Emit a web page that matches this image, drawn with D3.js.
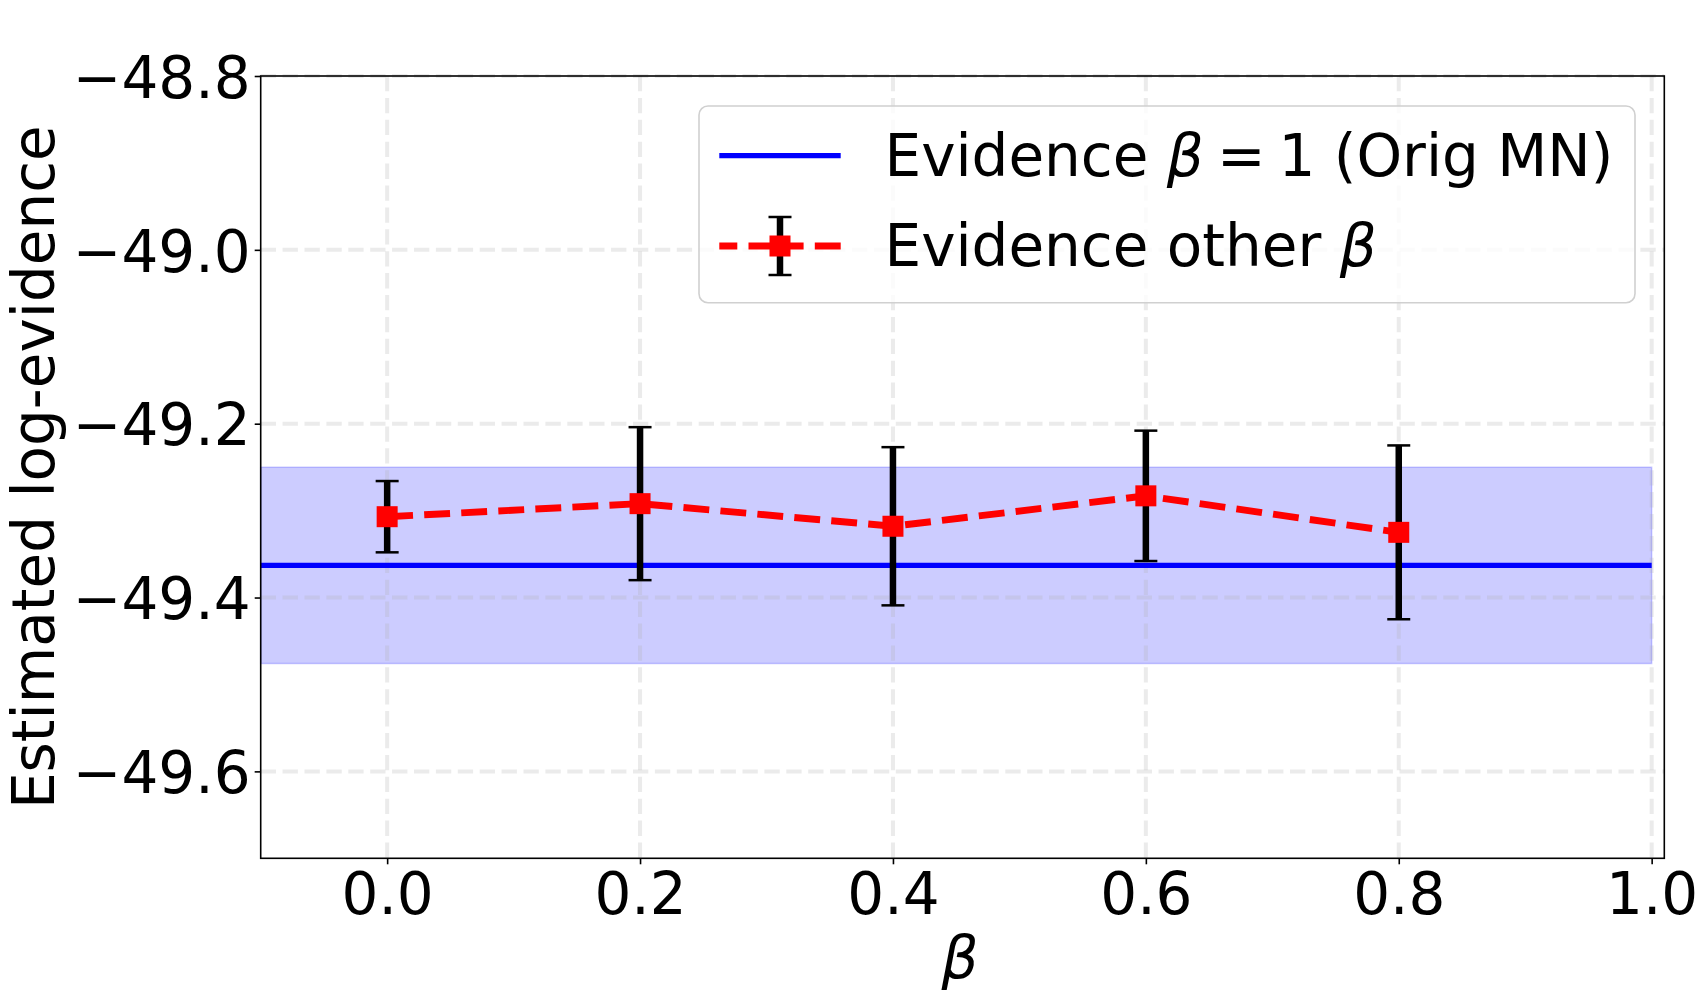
<!DOCTYPE html>
<html>
<head>
<meta charset="utf-8">
<script src="https://cdn.jsdelivr.net/npm/d3@7"></script>
<style>
  html, body { margin: 0; padding: 0; background: #fff; }
  svg { display: block; }
  text { font-family: "DejaVu Sans", sans-serif; }
</style>
</head>
<body>
<script>
// ---- data ----
const betas = [0.0, 0.2, 0.4, 0.6, 0.8];
const evidence = [-49.307, -49.292, -49.318, -49.283, -49.325];
const errors = [0.041, 0.088, 0.091, 0.075, 0.100];
const baseEvidence = -49.363;          // beta = 1 (Orig MN)
const baseLower = -49.476;
const baseUpper = -49.250;
const baseX = [-0.1, 1.0];
const xTicks = [0.0, 0.2, 0.4, 0.6, 0.8, 1.0];
const yTicks = [-49.6, -49.4, -49.2, -49.0, -48.8];
const xDomain = [-0.1, 1.01];
const yDomain = [-49.7, -48.8];
const labels = {
  y: "Estimated log-evidence",
  x: "β",
  base: ["Evidence ", "β", "=", "1 (Orig MN)"],
  other: ["Evidence other ", "β"]
};

// ---- layout ----
const W = 1701, H = 993;
const L = 260.7, R = 1664.3, T = 76, B = 858.3;
const FS = 58;

const svg = d3.select("body").append("svg").attr("width", W).attr("height", H);
svg.append("rect").attr("width", W).attr("height", H).attr("fill", "#fff");

const x = d3.scaleLinear().domain(xDomain).range([L, R]);
const y = d3.scaleLinear().domain(yDomain).range([B, T]);

// band
const bandData = baseX.map(v => ({x: v, lo: baseLower, hi: baseUpper}));
svg.append("path")
  .datum(bandData)
  .attr("d", d3.area().x(d => x(d.x)).y0(d => y(d.lo)).y1(d => y(d.hi)))
  .attr("fill", "#0000ff").attr("fill-opacity", 0.2)
  .attr("stroke", "#0000ff").attr("stroke-opacity", 0.2).attr("stroke-width", 1.5);

// grid
const grid = svg.append("g");
grid.selectAll("line.gx").data(xTicks).join("line")
  .attr("x1", d => x(d)).attr("x2", d => x(d)).attr("y1", T).attr("y2", B)
  .attr("stroke", "#b0b0b0").attr("stroke-opacity", 0.25)
  .attr("stroke-width", 4).attr("stroke-dasharray", "15.3,6.6");
grid.selectAll("line.gy").data(yTicks).join("line")
  .attr("x1", L).attr("x2", R).attr("y1", d => y(d)).attr("y2", d => y(d))
  .attr("stroke", "#b0b0b0").attr("stroke-opacity", 0.25)
  .attr("stroke-width", 4).attr("stroke-dasharray", "15.3,6.6");

// blue line
svg.append("path")
  .datum(baseX)
  .attr("d", d3.line().x(d => x(d)).y(() => y(baseEvidence)))
  .attr("stroke", "#0000ff").attr("stroke-width", 5.3).attr("fill", "none");

// error bars
const pts = betas.map((b, i) => ({x: b, y: evidence[i], e: errors[i]}));
const eb = svg.append("g");
eb.selectAll("line.bar").data(pts).join("line")
  .attr("x1", d => x(d.x)).attr("x2", d => x(d.x))
  .attr("y1", d => y(d.y - d.e)).attr("y2", d => y(d.y + d.e))
  .attr("stroke", "#000").attr("stroke-width", 6.5);
["lo", "hi"].forEach(k => {
  eb.selectAll("line.cap" + k).data(pts).join("line")
    .attr("x1", d => x(d.x) - 11.5).attr("x2", d => x(d.x) + 11.5)
    .attr("y1", d => y(k === "lo" ? d.y - d.e : d.y + d.e))
    .attr("y2", d => y(k === "lo" ? d.y - d.e : d.y + d.e))
    .attr("stroke", "#000").attr("stroke-width", 2.5);
});

// red dashed line
svg.append("path")
  .datum(pts)
  .attr("d", d3.line().x(d => x(d.x)).y(d => y(d.y)))
  .attr("stroke", "#ff0000").attr("stroke-width", 6.9).attr("fill", "none")
  .attr("stroke-dasharray", "25.9,11.2");
const MS = 21;
svg.selectAll("rect.mk").data(pts).join("rect")
  .attr("x", d => x(d.x) - MS / 2).attr("y", d => y(d.y) - MS / 2)
  .attr("width", MS).attr("height", MS).attr("fill", "#ff0000");

// axes
const xAxis = svg.append("g").attr("transform", `translate(0,${B})`)
  .call(d3.axisBottom(x).tickValues(xTicks).tickFormat(d3.format(".1f"))
    .tickSize(6).tickSizeOuter(0).tickPadding(8.5));
const yAxis = svg.append("g").attr("transform", `translate(${L},0)`)
  .call(d3.axisLeft(y).tickValues(yTicks).tickFormat(d3.format(".1f"))
    .tickSize(6).tickSizeOuter(0).tickPadding(4.1));
[xAxis, yAxis].forEach(a => {
  a.select(".domain").remove();
  a.selectAll(".tick line").attr("stroke", "#000").attr("stroke-width", 1.6);
  a.selectAll(".tick text").attr("font-size", FS).attr("fill", "#000")
    .attr("font-family", "DejaVu Sans");
});
yAxis.selectAll(".tick text").attr("dy", "0.365em");

// frame
svg.append("rect").attr("x", L).attr("y", T).attr("width", R - L).attr("height", B - T)
  .attr("fill", "none").attr("stroke", "#000").attr("stroke-width", 1.6);

// axis labels
svg.append("text")
  .attr("transform", `translate(54,${(T + B) / 2}) rotate(-90)`)
  .attr("text-anchor", "middle").attr("font-size", FS).attr("fill", "#000")
  .text(labels.y);
svg.append("text")
  .attr("x", 960).attr("y", 977.5).attr("text-anchor", "middle")
  .attr("font-size", FS).attr("font-style", "italic").attr("fill", "#000")
  .text(labels.x);

// legend
const lg = svg.append("g");
lg.append("rect").attr("x", 699).attr("y", 106).attr("width", 936).attr("height", 196.7)
  .attr("rx", 9).attr("ry", 9)
  .attr("fill", "#fff").attr("fill-opacity", 0.8)
  .attr("stroke", "#d0d0d0").attr("stroke-width", 1.6);
lg.append("line").attr("x1", 719.3).attr("x2", 840.7).attr("y1", 155.7).attr("y2", 155.7)
  .attr("stroke", "#0000ff").attr("stroke-width", 5.3);
const hx = 780, hy = 246;
lg.append("line").attr("x1", hx).attr("x2", hx).attr("y1", hy - 29).attr("y2", hy + 29)
  .attr("stroke", "#000").attr("stroke-width", 6.5);
[hy - 29, hy + 29].forEach(cy => lg.append("line")
  .attr("x1", hx - 11.5).attr("x2", hx + 11.5).attr("y1", cy).attr("y2", cy)
  .attr("stroke", "#000").attr("stroke-width", 2.5));
lg.append("line").attr("x1", 719.3).attr("x2", 840.7).attr("y1", hy).attr("y2", hy)
  .attr("stroke", "#ff0000").attr("stroke-width", 6.9).attr("stroke-dasharray", "18,11.2,25.9,11.2");
lg.append("rect").attr("x", hx - MS / 2).attr("y", hy - MS / 2).attr("width", MS).attr("height", MS)
  .attr("fill", "#ff0000");

const t1 = lg.append("text").attr("x", 884.5).attr("y", 176).attr("font-size", FS).attr("fill", "#000");
t1.append("tspan").text(labels.base[0]);
t1.append("tspan").attr("font-style", "italic").text(labels.base[1]);
t1.append("tspan").attr("dx", 13).text(labels.base[2]);
t1.append("tspan").attr("dx", 13).text(labels.base[3]);
const t2 = lg.append("text").attr("x", 884.5).attr("y", 265.7).attr("font-size", FS).attr("fill", "#000");
t2.append("tspan").text(labels.other[0]);
t2.append("tspan").attr("font-style", "italic").text(labels.other[1]);
</script>
</body>
</html>
